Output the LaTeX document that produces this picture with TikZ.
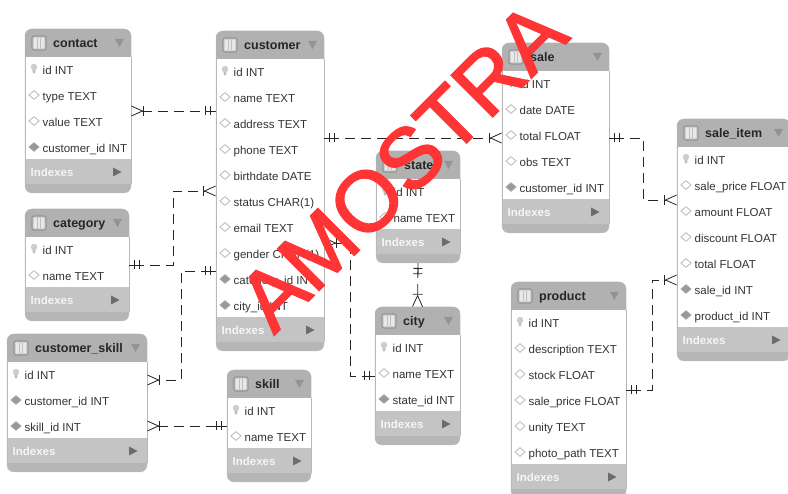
\documentclass[tikz,border=0pt]{standalone}
\usepackage{fontspec}
\setmainfont{Liberation Sans}
\newfontfamily\stampfont[FakeBold=2]{Liberation Sans}
\usepackage{tikz}
\usetikzlibrary{arrows.meta, shapes.geometric}

\definecolor{headgray}{HTML}{B1B1B1}
\definecolor{indexgray}{HTML}{C4C4C4}
\definecolor{footgray}{HTML}{B6B6B6}
\definecolor{edgegray}{HTML}{A6A6A6}
\definecolor{stampred}{HTML}{FF3434}

\tikzset{
  tablebox/.style={draw=edgegray!70, fill=footgray, rounded corners=7pt, anchor=north west, inner sep=0pt, outer sep=0pt},
  titletext/.style={anchor=west, inner sep=0pt, font=\bfseries\fontsize{12.5}{14}\selectfont, text=black!85, text height=9pt, text depth=2.5pt},
  rowtext/.style={anchor=west, inner sep=0pt, font=\fontsize{11.5}{14}\selectfont, text=black!80, text height=8.5pt, text depth=2.5pt},
  indextext/.style={anchor=west, inner sep=0pt, font=\bfseries\fontsize{11.5}{14}\selectfont, text=white!92!gray, text height=8.5pt, text depth=2.5pt},
  relline/.style={draw=black!85, line width=0.8pt, dash pattern=on 10pt off 6pt},
  one/.tip={Bar[width=9pt,line width=0.8pt] Rectangle[length=4.5pt,width=0.8pt,line width=0pt] Bar[width=9pt,line width=0.8pt] Rectangle[length=5pt,width=0.8pt,line width=0pt]},
  many/.tip={Bar[width=10pt,line width=0.8pt] Straight Barb[reversed,length=11pt,width=10pt,line width=0.8pt]},
  iconk/.pic={
    \fill[gray!50] (-1.8,-1) -- (1.8,-1) -- (1,4.5) -- (-1,4.5) -- cycle;
    \fill[gray!40] (0,-2) circle (3.2);
    \fill[white!65!gray] (-0.9,-2.6) circle (1.1);
  },
  iconf/.pic={\node[diamond, draw=gray!50, fill=white, line width=0.9pt, minimum width=10.5pt, minimum height=9pt, inner sep=0pt] {};},
  iconc/.pic={\node[diamond, draw=gray!65, fill=gray!80, line width=0.6pt, minimum width=10.5pt, minimum height=9pt, inner sep=0pt] {};},
  tableicon/.pic={
    \draw[gray!85, fill=gray!35, rounded corners=2pt, line width=1.1pt] (-7,-7) rectangle (7,7);
    \fill[gray!18] (-5,-5) rectangle (5,5);
    \foreach \c in {-2,1}{ \draw[gray!50, line width=0.5pt] (\c,-5) -- (\c,5); }
  },
}

% one table: name, x, y, width, rows, title, row list
\newcommand{\erdtable}[7]{
  \pgfmathsetmacro{\hgt}{60+26*#5}
  \pgfmathsetmacro{\xr}{#2+#4}
  \pgfmathsetmacro{\yhead}{#3+28}
  \pgfmathsetmacro{\yrows}{#3+26+26*#5}
  \node[tablebox, minimum width=#4pt, minimum height=\hgt pt] (#1) at (#2,#3) {};
  \fill[headgray] (#2,\yhead) [rounded corners=7pt] -- (#2,#3) -- (\xr,#3) [sharp corners] -- (\xr,\yhead) -- cycle;
  \fill[white] (#2+0.5,\yhead) rectangle (\xr-0.5,\yrows);
  \fill[indexgray] (#2+0.5,\yrows) rectangle (\xr-0.5,\yrows+25);
  \draw[edgegray!80, line width=0.5pt] (#2,\yhead) -- (#2,\yrows+25) (\xr,\yhead) -- (\xr,\yrows+25);
  \pic at (#2+14,#3+14) {tableicon};
  \node[titletext] (#1-title) at (#2+28,#3+15.2) {#6};
  \fill[gray!85] (\xr-16,#3+10) -- (\xr-7,#3+10) -- (\xr-11.5,#3+18) -- cycle;
  \foreach \kind/\lab [count=\i] in {#7}{
    \pgfmathsetmacro{\ry}{#3+41+26*(\i-1)}
    \pic at (#2+9,\ry-1) {icon\kind};
    \node[rowtext] (#1-r\i) at (#2+17.5,\ry+1.5) {\lab};
  }
  \node[indextext] (#1-idx) at (#2+5.5,\yrows+14.5) {Indexes};
  \fill[gray!85!black] (\xr-18,\yrows+8.5) -- (\xr-18,\yrows+17.5) -- (\xr-9.5,\yrows+13) -- cycle;
}

\begin{document}
\begin{tikzpicture}[x=1pt, y=-1pt]
  \useasboundingbox (0,0) rectangle (788,494);
  \clip (0,0) rectangle (788,494);
  \fill[white] (0,0) rectangle (788,494);

  % tables
  \erdtable{contact}{25}{29}{106}{4}{contact}{k/id INT, f/type TEXT, f/value TEXT, c/customer\_id INT}
  \erdtable{customer}{216}{31}{108}{10}{customer}{k/id INT, f/name TEXT, f/address TEXT, f/phone TEXT, f/birthdate DATE, f/status CHAR(1), f/email TEXT, f/gender CHAR(1), c/category\_id INT, c/city\_id INT}
  \erdtable{category}{25}{209}{104}{2}{category}{k/id INT, f/name TEXT}
  \erdtable{customerskill}{7}{334}{140}{3}{customer\_skill}{k/id INT, c/customer\_id INT, c/skill\_id INT}
  \erdtable{skill}{227}{370}{84}{2}{skill}{k/id INT, f/name TEXT}
  \erdtable{state}{376}{151}{84}{2}{state}{k/id INT, f/name TEXT}
  \erdtable{city}{375}{307}{85}{3}{city}{k/id INT, f/name TEXT, c/state\_id INT}
  \erdtable{sale}{502}{43}{107}{5}{sale}{k/id INT, f/date DATE, f/total FLOAT, f/obs TEXT, c/customer\_id INT}
  \erdtable{product}{511}{282}{115}{6}{product}{k/id INT, f/description TEXT, f/stock FLOAT, f/sale\_price FLOAT, f/unity TEXT, f/photo\_path TEXT}
  \erdtable{saleitem}{677}{119}{113}{7}{sale\_item}{k/id INT, f/sale\_price FLOAT, f/amount FLOAT, f/discount FLOAT, f/total FLOAT, c/sale\_id INT, c/product\_id INT}

  % relations
  \draw[relline, {many}-{one}] (contact.east) -- (contact.east -| customer.west);
  \draw[relline, {one}-{many}] (category.east) -- ++(44,0) |- (customer.west);
  \draw[relline, {one}-{many}] ([yshift=-80pt]customer.west) -- ++(-35,0) |- ([yshift=23pt]customerskill.east);
  \draw[relline, {many}-{one}] ([yshift=-23pt]customerskill.east) -- (skill.west);
  \draw[relline, {one}-{many}] (sale.west -| customer.east) -- (sale.west);
  \draw[relline, {many}-{one}] ([yshift=-52pt]customer.east) -- ++(26,0) |- (city.west);
  \draw[relline, {one}-{many}] (state.south) -- (city.north);
  \draw[relline, {one}-{many}] (sale.east) -- ++(34,0) |- ([yshift=40pt]saleitem.west);
  \draw[relline, {one}-{many}] (product.east) -- ++(26,0) |- ([yshift=-40pt]saleitem.west);

  % stamp over everything
  \node[rotate=45, text=stampred, inner sep=0pt, font=\stampfont\fontsize{85}{85}\selectfont] (stamp) at (402,166) {AMOSTRA};
\end{tikzpicture}
\end{document}
